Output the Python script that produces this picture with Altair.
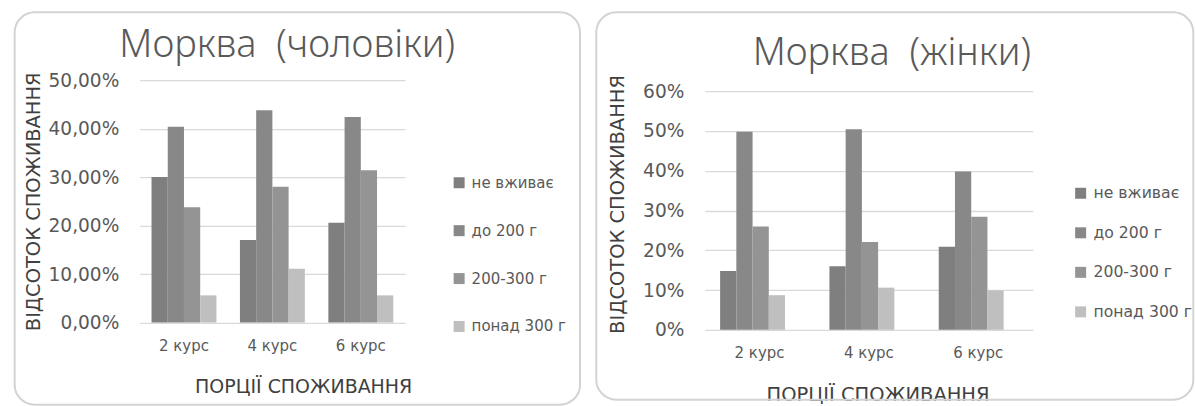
import altair as alt
import pandas as pd

# Categories
courses = ["2 курс", "4 курс", "6 курс"]
portions = ["не вживає", "до 200 г", "200-300 г", "понад 300 г"]
bar_colors = ["#7f7f7f", "#888888", "#949494", "#bfbfbf"]

# Share of respondents per portion size, one list per series (order follows `courses`)
men_none = [0.300, 0.170, 0.206]
men_upto200 = [0.404, 0.438, 0.424]
men_200_300 = [0.238, 0.280, 0.314]
men_over300 = [0.056, 0.111, 0.056]

women_none = [0.148, 0.160, 0.209]
women_upto200 = [0.498, 0.504, 0.398]
women_200_300 = [0.260, 0.221, 0.284]
women_over300 = [0.087, 0.106, 0.099]

men_ticks = [0.0, 0.1, 0.2, 0.3, 0.4, 0.5]
women_ticks = [0.0, 0.1, 0.2, 0.3, 0.4, 0.5, 0.6]

men_title = "Морква \u00a0(чоловіки)"
women_title = "Морква \u00a0(жінки)"


def to_frame(series):
    rows = []
    for portion, values in zip(portions, series):
        for course, v in zip(courses, values):
            rows.append({"course": course, "portion": portion, "share": v})
    return pd.DataFrame(rows)


men_df = to_frame([men_none, men_upto200, men_200_300, men_over300])
women_df = to_frame([women_none, women_upto200, women_200_300, women_over300])

FONT = "DejaVu Sans"
TITLE_FONT = "Noto Sans"
TEXT = "#595959"
DARK = "#404040"


def panel(df, title, y_scale, y_axis, band, legend, frame, title_pos,
          x_title_pos, x_title_size, y_title_pos, width, height):
    # rounded chart-area border, drawn in pixel space around the plot
    border = alt.Chart(alt.Data(values=[{"k": 0}])).mark_rect(
        fillOpacity=0, stroke="#d3d3d3", strokeWidth=2, cornerRadius=20
    ).encode(
        x=alt.value(frame[0]), x2=alt.value(frame[1]),
        y=alt.value(frame[2]), y2=alt.value(frame[3]),
    )
    heading = alt.Chart(alt.Data(values=[{"t": title}])).mark_text(
        font=TITLE_FONT, fontSize=38, fontWeight=300, color=TEXT,
        align="center", baseline="alphabetic",
    ).encode(
        text="t:N", x=alt.value(title_pos[0]), y=alt.value(title_pos[1]),
    )
    bars = alt.Chart(df).mark_bar().encode(
        x=alt.X(
            "course:N", sort=courses,
            scale=alt.Scale(paddingInner=band[0], paddingOuter=band[1]),
            axis=alt.Axis(
                title="ПОРЦІЇ СПОЖИВАННЯ", labelAngle=0, domain=False, ticks=False,
                labelFont=FONT, labelFontSize=15, labelColor=TEXT, labelPadding=16,
                titleFont=FONT, titleFontSize=x_title_size, titleFontWeight="normal",
                titleColor=DARK, titleX=x_title_pos[0], titleY=x_title_pos[1],
                titleAlign="center", titleBaseline="alphabetic",
            ),
        ),
        xOffset=alt.XOffset(
            "portion:N", sort=portions,
            scale=alt.Scale(paddingInner=0, paddingOuter=0),
        ),
        y=alt.Y(
            "share:Q", scale=y_scale,
            axis=alt.Axis(
                title="ВІДСОТОК СПОЖИВАННЯ", domain=False, ticks=False, grid=True,
                gridColor="#d9d9d9", gridWidth=1.3,
                labelFont=FONT, labelFontSize=18.6, labelColor=TEXT, labelPadding=21,
                titleFont=FONT, titleFontSize=19.5, titleFontWeight="normal",
                titleColor=DARK, titleX=y_title_pos[0], titleY=y_title_pos[1],
                titleAlign="center", titleBaseline="middle", titleAngle=270,
                **y_axis,
            ),
        ),
        color=alt.Color(
            "portion:N", sort=portions,
            scale=alt.Scale(domain=portions, range=bar_colors),
            legend=alt.Legend(
                title=None, orient="none", direction="vertical",
                legendX=legend[0], legendY=legend[1], rowPadding=legend[2],
                symbolType="square", symbolSize=121, symbolStrokeWidth=0,
                labelFont=FONT, labelFontSize=legend[3], labelColor=TEXT,
                labelOffset=5, padding=0,
            ),
        ),
    )
    return alt.layer(border, heading, bars).properties(width=width, height=height)


left = panel(
    men_df, men_title,
    alt.Scale(domain=[0, 0.5]),
    dict(values=men_ticks, labelExpr="replace(format(datum.value, '.2%'), '.', ',')"),
    band=(0.266, 0.133),
    legend=(312.4, 95.2, 32, 15),
    frame=(-125.3, 441.0, -68, 325),
    title_pos=(147.7, -23),
    x_title_pos=(163.7, 70.5), x_title_size=19,
    y_title_pos=(-106.3, 121.3),
    width=265.7, height=242.7,
)

right = panel(
    women_df, women_title,
    alt.Scale(domain=[0, 0.6], range=[250, 11]),
    dict(values=women_ticks, format=".0%"),
    band=(0.279, 0.14),
    legend=(368.6, 105.4, 22.6, 15.7),
    frame=(-108.7, 489.3, -68, 320),
    title_pos=(187.3, -15),
    x_title_pos=(173.0, 70.5), x_title_size=19.5,
    y_title_pos=(-87.7, 124.0),
    width=328.6, height=250,
)

chart = alt.hconcat(left, right, spacing=14).resolve_scale(
    color="independent"
).resolve_legend(
    color="independent"
).properties(
    padding={"left": 13, "top": 11, "right": 0, "bottom": 0},
    background="white",
).configure_view(stroke=None)

chart.save("out.html", embed_options={"renderer": "svg", "actions": False})
